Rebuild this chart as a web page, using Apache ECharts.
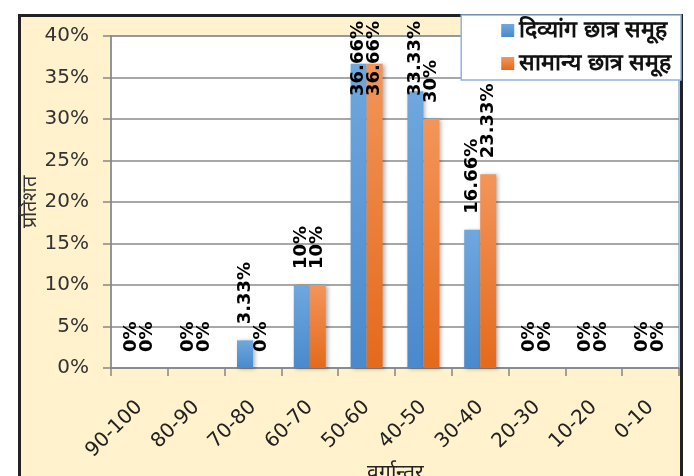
<!DOCTYPE html>
<html>
<head>
<meta charset="utf-8">
<script src="https://cdn.jsdelivr.net/npm/echarts@6/dist/echarts.min.js"></script>
<style>
html,body{margin:0;padding:0;background:#ffffff;}
#c{width:694px;height:476px;}
</style>
</head>
<body>
<div id="c"></div>
<script>
var categories = ['90-100','80-90','70-80','60-70','50-60','40-50','30-40','20-30','10-20','0-10'];
var divyangValues = [0, 0, 3.33, 10, 36.66, 33.33, 16.66, 0, 0, 0];
var samanyaValues = [0, 0, 0, 10, 36.66, 30, 23.33, 0, 0, 0];
var seriesNames = ['दिव्यांग छात्र समूह', 'सामान्य छात्र समूह'];
var yTicks = { min: 0, max: 40, interval: 5 };
var yAxisName = 'प्रतिशत';
var xAxisName = 'वर्गान्तर';

var chart = echarts.init(document.getElementById('c'), null, {renderer: 'canvas'});

var labelStyle = {
  show: true,
  position: 'top',
  distance: 16,
  rotate: 90,
  align: 'left',
  verticalAlign: 'middle',
  color: '#000',
  fontFamily: 'DejaVu Sans',
  fontWeight: 'bold',
  fontSize: 18,
  formatter: function (p) { return p.value + '%'; }
};

function grad(top, bottom) {
  return new echarts.graphic.LinearGradient(0, 0, 0, 1, [
    {offset: 0, color: top}, {offset: 1, color: bottom}
  ]);
}

var option = {
  animation: false,
  backgroundColor: '#ffffff',
  graphic: [{
    type: 'rect',
    z: -100,
    shape: {x: 19.5, y: 15.5, width: 662, height: 500},
    style: {fill: '#FFF2CC', stroke: '#222222', lineWidth: 3}
  }],
  grid: {
    left: 111, right: 15, top: 36, bottom: 108,
    outerBoundsMode: 'none',
    containLabel: false,
    show: true, backgroundColor: '#ffffff', borderColor: '#8DB4E2', borderWidth: 1.5
  },
  legend: {
    orient: 'vertical',
    top: 15, right: 13,
    backgroundColor: '#ffffff',
    borderColor: '#8DB4E2',
    borderWidth: 1.5,
    borderRadius: 0,
    padding: [4, 10, 5, 40],
    itemWidth: 13, itemHeight: 13,
    itemGap: 10,
    icon: 'rect',
    textStyle: {fontSize: 23, color: '#111', fontWeight: 'bold'},
    data: seriesNames
  },
  xAxis: {
    type: 'category',
    data: categories,
    name: xAxisName,
    nameLocation: 'middle',
    nameGap: 95,
    nameMoveOverlap: false,
    nameTextStyle: {fontSize: 21, color: '#222'},
    axisLine: {lineStyle: {color: '#868686', width: 1.5}},
    axisTick: {show: true, length: 8, lineStyle: {color: '#868686', width: 1.5}},
    axisLabel: {rotate: 45, margin: 36, fontSize: 20, color: '#222', fontFamily: 'DejaVu Sans', interval: 0}
  },
  yAxis: {
    type: 'value',
    min: yTicks.min, max: yTicks.max, interval: yTicks.interval,
    name: yAxisName,
    nameLocation: 'middle',
    nameGap: 71,
    nameMoveOverlap: false,
    nameRotate: 90,
    nameTextStyle: {fontSize: 20, color: '#333'},
    axisLine: {show: true, lineStyle: {color: '#868686', width: 1.5}},
    axisTick: {show: true, length: 8, lineStyle: {color: '#868686', width: 1.5}},
    axisLabel: {margin: 22, fontSize: 20, color: '#333', fontFamily: 'DejaVu Sans', formatter: '{value}%'},
    splitLine: {lineStyle: {color: '#8a8a8a', width: 1.5}}
  },
  labelLayout: function (p) {
    var r = p.labelRect;
    var minTop = 21;
    if (r.y < minTop) {
      return {y: r.y + r.height + (minTop - r.y)};
    }
  },
  series: [
    {
      name: seriesNames[0], type: 'bar', data: divyangValues,
      barWidth: 16, barGap: '0%',
      itemStyle: {color: grad('#6FA8DE', '#4A89CC'), shadowColor: 'rgba(0,0,0,0.3)', shadowBlur: 4, shadowOffsetX: 2, shadowOffsetY: 1},
      label: labelStyle
    },
    {
      name: seriesNames[1], type: 'bar', data: samanyaValues,
      barWidth: 16, barGap: '0%',
      itemStyle: {color: grad('#F3955A', '#E46A1C'), shadowColor: 'rgba(0,0,0,0.3)', shadowBlur: 4, shadowOffsetX: 2, shadowOffsetY: 1},
      label: labelStyle
    }
  ],
  color: ['#5B9BD5', '#ED7D31']
};
chart.setOption(option);
</script>
</body>
</html>
